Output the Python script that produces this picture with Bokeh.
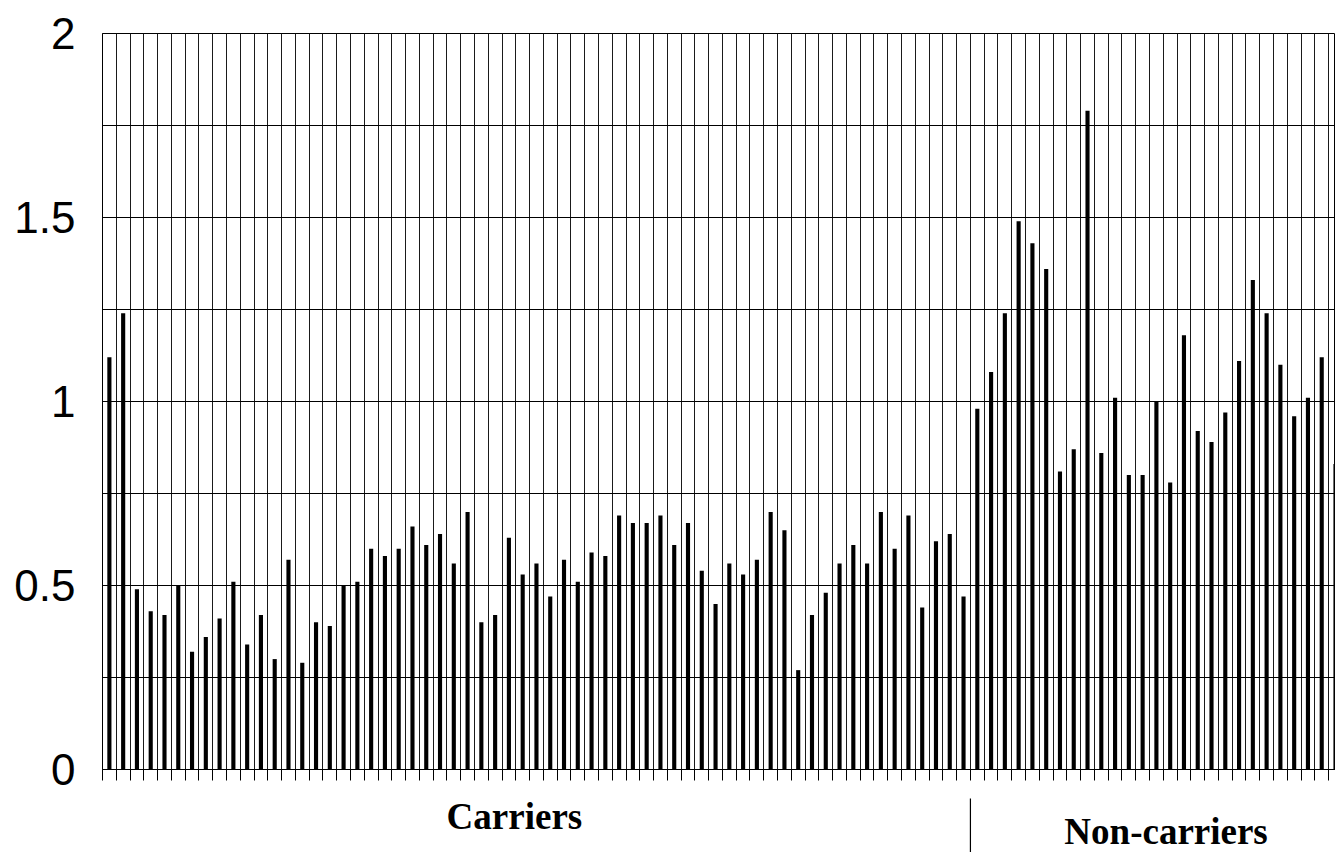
from bokeh.plotting import figure
from bokeh.layouts import column
from bokeh.models import Range1d, FixedTicker, NumeralTickFormatter, ColumnDataSource
from bokeh.core.properties import value
from bokeh.embed import file_html
from bokeh.resources import INLINE

# ---- data ----
carriers = [1.12, 1.24, 0.49, 0.43, 0.42, 0.50, 0.32, 0.36, 0.41, 0.51,
            0.34, 0.42, 0.30, 0.57, 0.29, 0.40, 0.39, 0.50, 0.51, 0.60,
            0.58, 0.60, 0.66, 0.61, 0.64, 0.56, 0.70, 0.40, 0.42, 0.63,
            0.53, 0.56, 0.47, 0.57, 0.51, 0.59, 0.58, 0.69, 0.67, 0.67,
            0.69, 0.61, 0.67, 0.54, 0.45, 0.56, 0.53, 0.57, 0.70, 0.65,
            0.27, 0.42, 0.48, 0.56, 0.61, 0.56, 0.70, 0.60, 0.69, 0.44,
            0.62, 0.64, 0.47]
non_carriers = [0.98, 1.08, 1.24, 1.49, 1.43, 1.36, 0.81, 0.87, 1.79, 0.86,
                1.01, 0.80, 0.80, 1.00, 0.78, 1.18, 0.92, 0.89, 0.97, 1.11,
                1.33, 1.24, 1.10, 0.96, 1.01, 1.12, 0.83]
group_labels = ["Carriers", "Non-carriers"]
y_major_ticks = [0, 0.5, 1, 1.5, 2]
y_minor_ticks = [0.25, 0.75, 1.25, 1.75]

values = carriers + non_carriers
n_total = len(values)
n_car = len(carriers)
xs = list(range(1, n_total + 1))
source = ColumnDataSource(dict(x=xs, y=values))

x_range = Range1d(0.5, n_total + 0.0)

# ---- main chart ----
p = figure(width=1335, height=796, output_backend="svg", toolbar_location=None,
           x_range=x_range, y_range=Range1d(0, 2),
           min_border_left=102, min_border_right=0, min_border_top=33,
           min_border_bottom=27)
p.outline_line_color = "black"
p.outline_line_width = 1
p.background_fill_color = "white"
p.border_fill_color = "white"

p.vbar(x="x", top="y", width=0.3, source=source, fill_color="black", line_color=None)

# y axis
p.yaxis.ticker = FixedTicker(ticks=y_major_ticks, minor_ticks=y_minor_ticks)
p.yaxis.formatter = NumeralTickFormatter(format="0.[0]")
p.yaxis.major_tick_out = 0
p.yaxis.major_tick_in = 0
p.yaxis.minor_tick_out = 0
p.yaxis.minor_tick_in = 0
p.yaxis.major_label_standoff = 27
p.yaxis.major_label_text_font = "Liberation Sans"
p.yaxis.major_label_text_font_size = "44px"
p.yaxis.major_label_text_color = "black"
p.yaxis.axis_line_color = "black"
p.ygrid.grid_line_color = "black"
p.ygrid.grid_line_width = 1
p.ygrid.minor_grid_line_color = "black"
p.ygrid.minor_grid_line_width = 1

# x axis: slot boundaries
edges = [i + 0.5 for i in range(0, n_total)]
p.xaxis.ticker = FixedTicker(ticks=edges, minor_ticks=[])
p.xaxis.major_tick_out = 11
p.xaxis.major_tick_in = 0
p.xaxis.major_tick_line_color = "black"
p.xaxis.minor_tick_out = 0
p.xaxis.minor_tick_in = 0
p.xaxis.major_label_standoff = 0
p.xaxis.major_label_text_font_size = "0px"
p.xaxis.major_label_text_color = None
p.xaxis.axis_line_color = "black"
p.xgrid.grid_line_color = "#1a1a1a"
p.xgrid.grid_line_width = 1

# ---- label strip below (shares the x scale) ----
q = figure(width=1335, height=56, output_backend="svg", toolbar_location=None,
           x_range=x_range, y_range=Range1d(0, 56),
           x_axis_type=None, y_axis_type=None,
           min_border_left=102, min_border_right=0, min_border_top=0,
           min_border_bottom=0)
q.outline_line_color = None
q.grid.visible = False
q.background_fill_color = "white"
q.border_fill_color = "white"

lab_src = ColumnDataSource(dict(x=[30.4, 77.7], y=[36, 21], t=group_labels))
q.text(x="x", y="y", text="t", source=lab_src, text_align="center",
       text_baseline="middle", text_font=value("Liberation Serif"),
       text_font_style="bold", text_font_size=value("37px"), text_color="black")
q.segment(x0=[n_car + 0.5], y0=[54], x1=[n_car + 0.5], y1=[0],
          line_color="black", line_width=1.2)

layout = column(p, q, spacing=0)
open("out.html", "w").write(file_html(layout, INLINE))
